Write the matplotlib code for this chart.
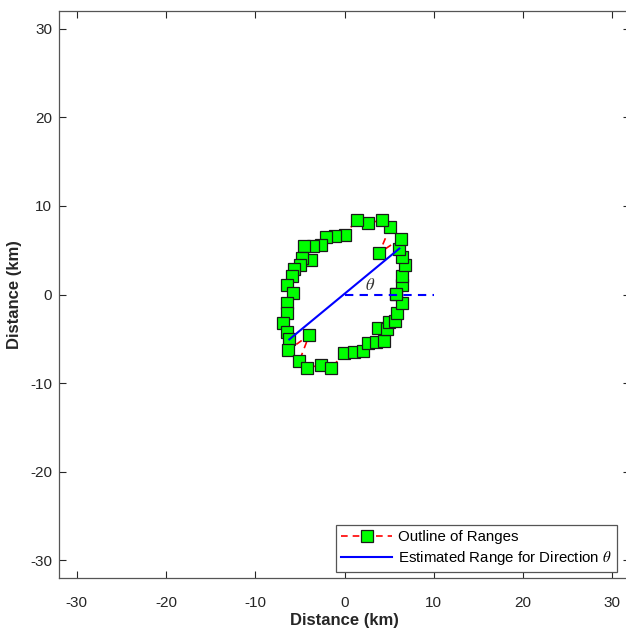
import matplotlib
matplotlib.use("Agg")
import matplotlib.pyplot as plt

plt.rcParams['font.family'] = ['Liberation Sans', 'DejaVu Sans']
plt.rcParams['mathtext.fontset'] = 'stix'
plt.rcParams['axes.unicode_minus'] = False

# Outline of estimated ranges (km), ordered counter-clockwise by direction
outline_x = [5.74, 6.41, 6.41, 6.78, 6.48, 6.15, 6.30, 3.90, 5.10, 4.17,
             2.67, 1.40, 0.06, -1.06, -2.10, -2.67, -3.50, -4.50, -3.80, -4.73,
             -4.99, -5.66, -5.85, -6.48, -5.80, -6.48, -6.41, -6.86, -6.48, -6.19,
             -6.30, -3.95, -5.07, -4.17, -2.67, -1.51, -0.06, 1.03, 2.11, 2.67,
             3.50, 4.43, 3.79, 4.73, 5.03, 5.66, 5.85, 6.41]
outline_y = [0.10, 1.05, 2.14, 3.38, 4.25, 5.19, 6.31, 4.70, 7.59, 8.38,
             8.08, 8.46, 6.76, 6.65, 6.50, 5.56, 5.52, 5.45, 3.87, 4.13,
             3.38, 2.93, 2.07, 1.05, 0.15, -1.01, -2.07, -3.27, -4.21, -5.07,
             -6.28, -4.58, -7.52, -8.27, -7.97, -8.34, -6.65, -6.48, -6.39, -5.45,
             -5.37, -5.30, -3.76, -3.95, -3.08, -3.00, -2.07, -1.01]

# Estimated range along direction theta (both ends) and the reference axis
range_x = [-6.19, 6.15]
range_y = [-5.07, 5.19]
ref_x = [0, 10]
ref_y = [0, 0]
theta_label_pos = (2.9, 1.1)

ticks = [-30, -20, -10, 0, 10, 20, 30]
lim = (-32, 32)

fig = plt.figure(figsize=(6.26, 6.32), dpi=100)
ax = fig.add_axes([59 / 626, 54 / 632, 571 / 626, 567 / 632])

closed_x = outline_x + outline_x[:1]
closed_y = outline_y + outline_y[:1]
ax.plot(closed_x, closed_y, linestyle='--', color='#ff0000', linewidth=1.2,
        marker='s', markersize=8.2, markerfacecolor='#00ff00',
        markeredgecolor='#1a1a1a', markeredgewidth=0.9,
        dashes=(4, 3), label='Outline of Ranges', zorder=3)
ax.plot(range_x, range_y, color='#0000ff', linewidth=1.5,
        label=r'Estimated Range for Direction $\theta$', zorder=4)
ax.plot(ref_x, ref_y, color='#0000ff', linewidth=1.5, linestyle='--',
        dashes=(4, 3), zorder=4)
ax.text(*theta_label_pos, r'$\theta$', fontsize=12, color='#333333',
        ha='center', va='center', zorder=5)

ax.set_xlim(lim)
ax.set_ylim(lim)
ax.set_xticks(ticks)
ax.set_yticks(ticks)
ax.tick_params(direction='in', length=5, width=0.8, top=True, right=True,
               labelsize=11, colors='#262626')
ax.tick_params(axis='x', pad=13)
ax.tick_params(axis='y', pad=5)
for s in ax.spines.values():
    s.set_color('#555555')
    s.set_linewidth(0.9)

ax.set_xlabel('Distance (km)', fontsize=12, fontweight='bold', color='#262626', labelpad=2)
ax.set_ylabel('Distance (km)', fontsize=12, fontweight='bold', color='#262626', labelpad=6)

leg = ax.legend(loc='lower right', bbox_to_anchor=(617 / 626, 60 / 632),
                bbox_transform=fig.transFigure, borderaxespad=0,
                fontsize=10.8, fancybox=False, framealpha=1,
                edgecolor='#555555', handlelength=3.4, handletextpad=0.4,
                borderpad=0.35, labelspacing=0.3)
leg.get_frame().set_linewidth(0.9)

fig.savefig('out.png', dpi=100)
